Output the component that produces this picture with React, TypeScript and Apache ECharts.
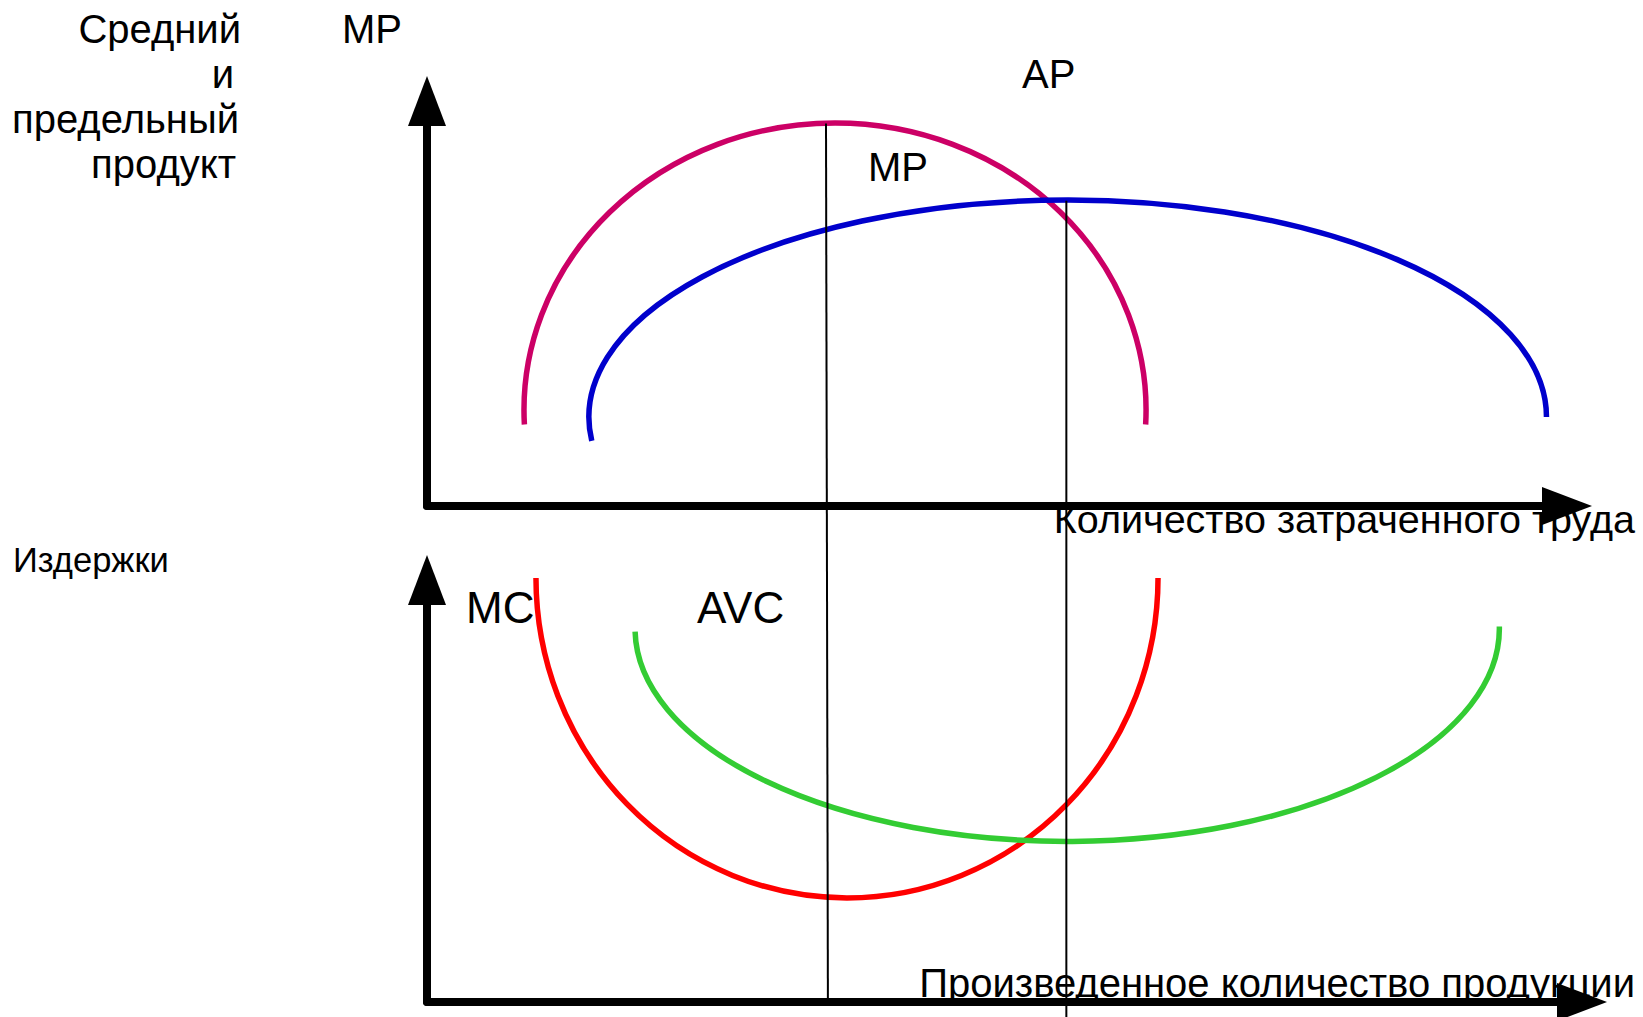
import React, { useEffect, useRef } from "react";
import * as echarts from "echarts";

const FONT = '"Liberation Sans", Arial, Helvetica, sans-serif';

// Each curve is an elliptical arc, in its panel's data units.
// Top panel: x = labour input 0..120, y = product 0..100.
// Bottom panel: x = output 0..120, y = costs 0..100.
const arcNames = ["MP", "AP", "MC", "AVC"];
const arcPanel = [0, 0, 1, 1];
const arcCenterX = [42.95, 67.44, 44.21, 67.39];
const arcCenterY = [24.0, 22.25, 106.0, 93.33];
const arcRadiusX = [32.74, 50.4, 32.74, 45.49];
const arcRadiusY = [71.75, 54.25, 80.0, 53.18];
const arcStartDeg = [-2.9, 0, 180, 180.8];
const arcEndDeg = [182.9, 186.3, 360, 360.6];
const arcColors = ["#cc0066", "#0000cc", "#ff0000", "#33cc33"];

// Vertical guides (top-panel units, running down through the lower panel)
const guideMaxMpX = [42.0, 42.2];
const guideMaxMpY = [95.6, -123.8];
const guideMaxApX = [67.3, 67.3];
const guideMaxApY = [76.3, -130];

// Texts
const topYLabel = ["Средний", "и", "предельный", "продукт"];
const topXLabel = "Количество затраченного труда";
const bottomYLabel = "Издержки";
const bottomXLabel = "Произведенное количество продукции";
const curveLabels = { mpTop: "MP", ap: "AP", mp: "MP", mc: "MC", avc: "AVC" };

const zip = (xs: number[], ys: number[]) => xs.map((x, i) => [x, ys[i]]);

export default function App() {
  const ref = useRef<HTMLDivElement>(null);

  useEffect(() => {
    if (!ref.current) return;
    const chart = echarts.init(ref.current, null, { renderer: "svg" });

    const axisLine = (endOffset: number) => ({
      show: true,
      onZero: true,
      symbol: ["none", "triangle"],
      symbolSize: [38, 50],
      symbolOffset: [0, endOffset],
      lineStyle: { color: "#000", width: 8 },
    });
    const hidden = {
      axisTick: { show: false },
      axisLabel: { show: false },
      splitLine: { show: false },
    };

    const arcSeries = arcNames.map((name, i) => ({
      name,
      type: "custom",
      coordinateSystem: "cartesian2d",
      xAxisIndex: arcPanel[i],
      yAxisIndex: arcPanel[i],
      clip: false,
      silent: true,
      z: 3,
      data: [[arcCenterX[i], arcCenterY[i], arcRadiusX[i], arcRadiusY[i], arcStartDeg[i], arcEndDeg[i]]],
      renderItem: (_params: any, api: any) => {
        const cx = api.value(0);
        const cy = api.value(1);
        const rx = api.value(2);
        const ry = api.value(3);
        const a0 = api.value(4);
        const a1 = api.value(5);
        const c = api.coord([cx, cy]);
        const ex = api.coord([cx + rx, cy]);
        const ey = api.coord([cx, cy + ry]);
        const rxp = Math.abs(ex[0] - c[0]);
        const ryp = Math.abs(c[1] - ey[1]);
        const pt = (deg: number) => {
          const r = (deg * Math.PI) / 180;
          return [c[0] + rxp * Math.cos(r), c[1] - ryp * Math.sin(r)];
        };
        const s = pt(a0);
        const e = pt(a1);
        const large = a1 - a0 > 180 ? 1 : 0;
        const d = `M ${s[0]} ${s[1]} A ${rxp} ${ryp} 0 ${large} 0 ${e[0]} ${e[1]}`;
        return {
          type: "path",
          shape: { pathData: d },
          style: { stroke: arcColors[i], lineWidth: 5.5, fill: "none" },
        };
      },
    }));

    const guide = (xs: number[], ys: number[]) => ({
      type: "line",
      xAxisIndex: 0,
      yAxisIndex: 0,
      data: zip(xs, ys),
      symbol: "none",
      showSymbol: false,
      clip: false,
      silent: true,
      lineStyle: { color: "#000", width: 2 },
      z: 4,
    });

    const txt = (text: string, x: number, y: number, size: number, align: string) => ({
      type: "text",
      x,
      y,
      silent: true,
      z: 10,
      style: {
        text,
        font: `${size}px ${FONT}`,
        fontSize: size,
        fontFamily: FONT,
        fill: "#000",
        align,
        textAlign: align,
        verticalAlign: "middle",
        textVerticalAlign: "middle",
      },
    });

    const option: any = {
      animation: false,
      backgroundColor: "#fff",
      textStyle: { fontFamily: FONT },
      grid: [
        { left: 427, right: 76, top: 106, bottom: 511, containLabel: false, outerBoundsMode: "none" },
        { left: 427, right: 76, top: 602, bottom: 15, containLabel: false, outerBoundsMode: "none" },
      ],
      xAxis: [
        { type: "value", gridIndex: 0, min: 0, max: 120, axisLine: axisLine(0), ...hidden },
        { type: "value", gridIndex: 1, min: 0, max: 120, axisLine: axisLine(15), ...hidden },
      ],
      yAxis: [
        { type: "value", gridIndex: 0, min: 0, max: 100, axisLine: axisLine(5), ...hidden },
        { type: "value", gridIndex: 1, min: 0, max: 100, axisLine: axisLine(22), ...hidden },
      ],
      series: [...arcSeries, guide(guideMaxMpX, guideMaxMpY), guide(guideMaxApX, guideMaxApY)],
      graphic: [
        txt(topYLabel[0], 241, 29, 40, "right"),
        txt(topYLabel[1], 234, 74, 40, "right"),
        txt(topYLabel[2], 239, 119, 40, "right"),
        txt(topYLabel[3], 236, 164, 40, "right"),
        txt(curveLabels.mpTop, 342, 29, 40, "left"),
        txt(curveLabels.ap, 1022, 74, 40, "left"),
        txt(curveLabels.mp, 868, 167, 40, "left"),
        txt(topXLabel, 1635, 519, 39.5, "right"),
        txt(bottomYLabel, 13, 560, 34.5, "left"),
        txt(curveLabels.mc, 466, 607, 44, "left"),
        txt(curveLabels.avc, 697, 607, 44, "left"),
        txt(bottomXLabel, 1635, 983, 40, "right"),
      ],
    };

    chart.setOption(option);
    return () => chart.dispose();
  }, []);

  return (
    <div
      ref={ref}
      style={{ position: "absolute", left: 0, top: 0, width: 1643, height: 1017, background: "#fff" }}
    />
  );
}
